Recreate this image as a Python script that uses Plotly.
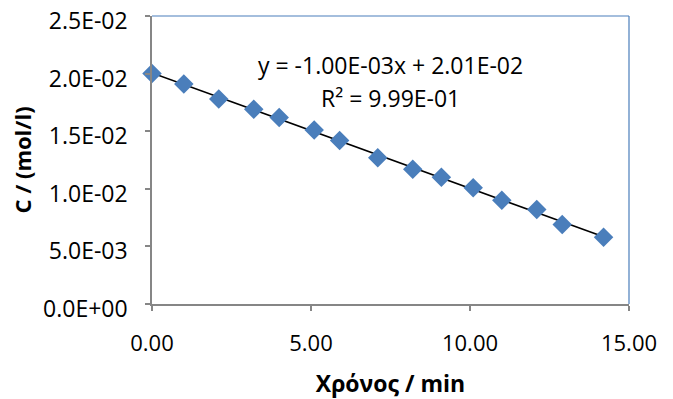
import numpy as np
import plotly.graph_objects as go

# Data
time_min = [0.0, 1.0, 2.1, 3.2, 4.0, 5.1, 5.9, 7.1, 8.2, 9.1, 10.1, 11.0, 12.1, 12.9, 14.2]
conc_mol_l = [0.0200, 0.0191, 0.0178, 0.0169, 0.0162, 0.0151, 0.0142, 0.0127,
              0.0117, 0.0110, 0.0101, 0.0090, 0.0082, 0.0069, 0.0058]

y_tickvals = [0.0, 0.005, 0.010, 0.015, 0.020, 0.025]
y_ticktext = ["0.0E+00", "5.0E-03", "1.0E-02", "1.5E-02", "2.0E-02", "2.5E-02"]
x_tickvals = [0, 5, 10, 15]

eq_text = "y = -1.00E-03x + 2.01E-02"
r2_text = "R² = 9.99E-01"

FONT = "Open Sans"
BLUE = "#4A7EBB"
AXIS = "#868686"

slope, intercept = np.polyfit(time_min, conc_mol_l, 1)
fit_x = [min(time_min), max(time_min)]
fit_y = [slope * v + intercept for v in fit_x]

fig = go.Figure()
fig.add_trace(go.Scatter(
    x=fit_x, y=fit_y, mode="lines",
    line=dict(color="black", width=1.5), showlegend=False, hoverinfo="skip"))
fig.add_trace(go.Scatter(
    x=time_min, y=conc_mol_l, mode="markers",
    marker=dict(symbol="diamond", size=15, color=BLUE, line=dict(width=0)),
    showlegend=False, cliponaxis=False))

fig.add_annotation(x=7.5, y=0.02078, xref="x", yref="y", text=eq_text,
                   showarrow=False, font=dict(family=FONT, size=23, color="black"))
fig.add_annotation(x=7.5, y=0.01791, xref="x", yref="y", text=r2_text,
                   showarrow=False, font=dict(family=FONT, size=23, color="black"))

# plot-area border (top and right)
fig.add_shape(type="line", xref="paper", yref="paper", x0=0, x1=1, y0=1, y1=1,
              line=dict(color=BLUE, width=1.2), layer="below")
fig.add_shape(type="line", xref="paper", yref="paper", x0=1, x1=1, y0=0, y1=1,
              line=dict(color=BLUE, width=1.2), layer="below")

# plot area at 152..629 x 16..304 (body margin removed below)
fig.update_layout(
    width=673, height=399,
    margin=dict(l=152, r=44, t=16, b=95, autoexpand=False),
    paper_bgcolor="white", plot_bgcolor="white",
    font=dict(family=FONT, size=22, color="black"),
    xaxis=dict(
        range=[0, 15], tickvals=x_tickvals, tickformat=".2f",
        showgrid=False, zeroline=False, automargin=False,
        showline=True, linecolor=AXIS, linewidth=1.5,
        ticks="outside", ticklen=5, tickcolor=AXIS, tickwidth=1.5,
        ticklabelstandoff=14, ticklabeloverflow="allow",
        tickfont=dict(family=FONT, size=22),
        title=dict(text="<b>Χρόνος / min</b>", font=dict(family=FONT, size=23), standoff=21),
    ),
    yaxis=dict(
        range=[0, 0.025], tickvals=y_tickvals, ticktext=y_ticktext,
        showgrid=False, zeroline=False, automargin=False,
        showline=True, linecolor=AXIS, linewidth=1.5,
        ticks="outside", ticklen=5, tickcolor=AXIS, tickwidth=1.5,
        ticklabelstandoff=13, ticklabelshift=5, ticklabeloverflow="allow",
        tickfont=dict(family=FONT, size=23),
        title=dict(text="<b>C / (mol/l)</b>", font=dict(family=FONT, size=22), standoff=5),
    ),
)

fig.write_html("out.html", config={"displayModeBar": False},
               post_script="document.body.style.margin='0';")
